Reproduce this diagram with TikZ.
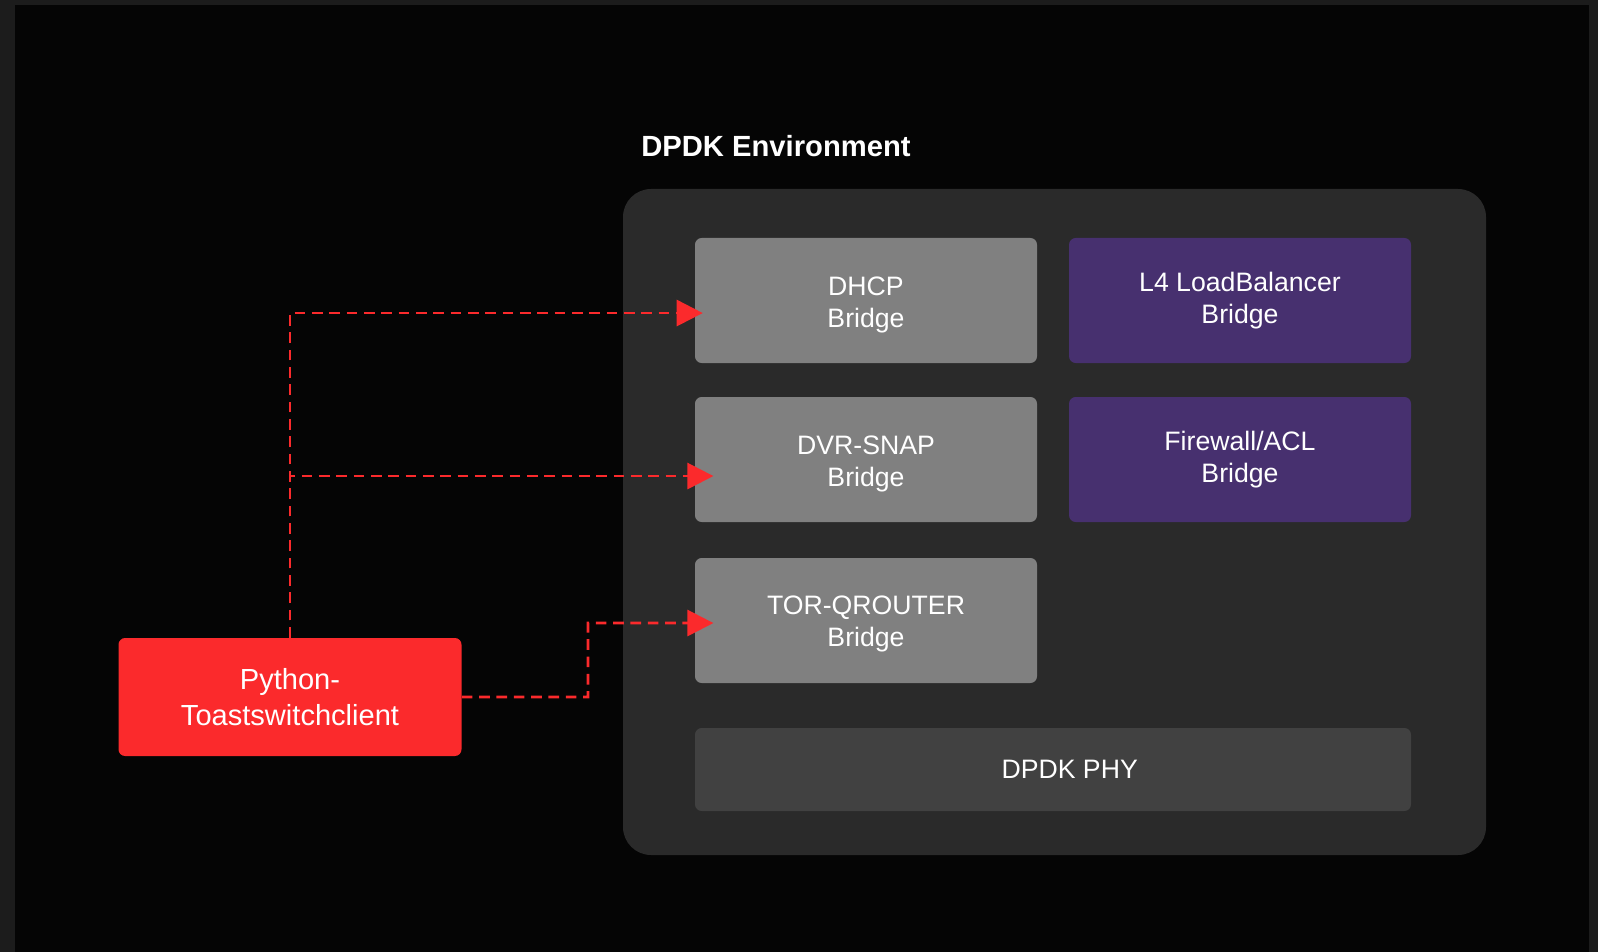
\documentclass[tikz,border=0pt]{standalone}
\usepackage{fontspec}
\setmainfont{Liberation Sans}
\usepackage{xcolor}
\usetikzlibrary{arrows.meta}

\definecolor{framegray}{RGB}{28,28,28}
\definecolor{bgblack}{RGB}{5,5,5}
\definecolor{panelgray}{RGB}{42,42,42}
\definecolor{bridgegray}{RGB}{128,128,128}
\definecolor{bridgepurple}{RGB}{71,48,111}
\definecolor{phygray}{RGB}{65,65,65}
\definecolor{toastred}{RGB}{251,42,44}

\tikzset{
  bridge/.style={rectangle, rounded corners=5pt, fill=bridgegray, text=white,
    minimum width=256.5pt, minimum height=93.75pt, align=center,
    font=\fontsize{20}{24.5}\selectfont},
  purplebridge/.style={bridge, fill=bridgepurple},
  flow/.style={draw=toastred, line width=2pt, dash pattern=on 8pt off 5pt,
    -{Triangle[length=19.5pt,width=19.5pt]}}
}

\begin{document}
\begin{tikzpicture}[x=0.75pt,y=0.75pt,yscale=-1,xscale=1]
%Background and frame
\fill[framegray] (0,0) rectangle (1598,952);
\fill[bgblack] (15,5) rectangle (1589,952);

% Text Node
\node[text=white, font=\bfseries\fontsize{21.9}{26}\selectfont] (title) at (776,146) {DPDK Environment};

%Shape: Panel
\node[rectangle, rounded corners=21pt, fill=panelgray, minimum width=647.25pt, minimum height=499.5pt] (env) at (1054.5,522) {};

%Shape: Bridges
\node[bridge] (dhcp) at (866,300.5) {\strut\\[-21pt]DHCP\\Bridge};
\node[purplebridge] (lb) at (1240,300.5) {L4 LoadBalancer\\Bridge};
\node[bridge] (dvr) at (866,459.5) {\strut\\[-21pt]DVR-SNAP\\Bridge};
\node[purplebridge] (fw) at (1240,459.5) {Firewall/ACL\\Bridge};
\node[bridge] (tor) at (866,620.5) {\strut\\[-22.5pt]TOR-QROUTER\\Bridge};

%Shape: PHY
\node[bridge, fill=phygray, minimum width=537pt, minimum height=62.25pt,
  label={[text=white, font=\fontsize{20}{24.5}\selectfont, xshift=12.5pt]center:DPDK PHY}] (phy) at (1053,769.5) {};

%Shape: Client
\node[rectangle, rounded corners=5pt, fill=toastred, text=white, align=center,
  minimum width=257.25pt, minimum height=88.5pt,
  font=\fontsize{21.8}{26.8}\selectfont] (client) at (290,697) {Python-\\Toastswitchclient};

%Arrow ends
\coordinate (tipA) at ([xshift=6pt,yshift=9.4pt]dhcp.west);
\coordinate (tipB) at ([xshift=14pt,yshift=12.4pt]dvr.west);
\coordinate (tipC) at ([xshift=14pt,yshift=1.9pt]tor.west);
\coordinate (bendC) at (588,623);

%Straight Lines
\draw[flow] (client.north) |- (tipA);
\draw[flow] (client.north) |- (tipB);
\draw[flow] (client.east) -| (bendC) -- (tipC);
\end{tikzpicture}
\end{document}
